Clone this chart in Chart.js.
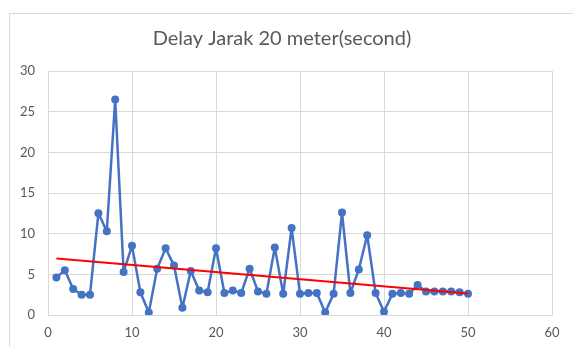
<!DOCTYPE html>
<html>
<head>
<meta charset="utf-8">
<script src="https://cdn.jsdelivr.net/npm/chart.js@4/dist/chart.umd.min.js"></script>
<style>
  html, body { margin: 0; padding: 0; background: #fff; }
  #wrap { width: 573px; height: 347px; position: relative; }
</style>
</head>
<body>
<div id="wrap"><canvas id="delayChart"></canvas></div>
<script>
// Data
const titleText = 'Delay Jarak 20 meter(second)';
const sampleNo = [];
for (let i = 1; i <= 50; i++) sampleNo.push(i);
const delaySec = [4.6, 5.5, 3.2, 2.5, 2.5, 12.5, 10.3, 26.5, 5.3, 8.5,
                  2.8, 0.3, 5.7, 8.2, 6.1, 0.9, 5.4, 3.0, 2.8, 8.2,
                  2.7, 3.0, 2.7, 5.7, 2.9, 2.6, 8.3, 2.6, 10.7, 2.6,
                  2.7, 2.7, 0.3, 2.6, 12.6, 2.7, 5.6, 9.8, 2.7, 0.4,
                  2.6, 2.7, 2.6, 3.7, 2.9, 2.9, 2.9, 2.9, 2.8, 2.6];
const xTicks = [0, 10, 20, 30, 40, 50, 60];
const yTicks = [0, 5, 10, 15, 20, 25, 30];

// Linear trendline (least squares) like Excel's
function linearFit(xs, ys) {
  const n = xs.length;
  let sx = 0, sy = 0, sxy = 0, sxx = 0;
  for (let i = 0; i < n; i++) {
    sx += xs[i]; sy += ys[i]; sxy += xs[i] * ys[i]; sxx += xs[i] * xs[i];
  }
  const slope = (n * sxy - sx * sy) / (n * sxx - sx * sx);
  const icpt = (sy - slope * sx) / n;
  return x => icpt + slope * x;
}
const fit = linearFit(sampleNo, delaySec);
const xFirst = sampleNo[0], xLast = sampleNo[sampleNo.length - 1];

const points = sampleNo.map((x, i) => ({ x: x, y: delaySec[i] }));
const trend = [{ x: xFirst, y: fit(xFirst) }, { x: xLast, y: fit(xLast) }];

// Excel-like chart area border
const chartBorder = {
  id: 'chartBorder',
  beforeDraw(chart) {
    const ctx = chart.ctx;
    ctx.save();
    ctx.fillStyle = '#fff';
    ctx.fillRect(0, 0, chart.width, chart.height);
    ctx.strokeStyle = '#d9d9d9';
    ctx.lineWidth = 1;
    ctx.strokeRect(9.5, 13.5, chart.width + 10, chart.height + 10);
    ctx.restore();
  }
};

const gridColor = '#d9d9d9';
const tickColor = '#595959';

const ctx = document.getElementById('delayChart').getContext('2d');
new Chart(ctx, {
  type: 'scatter',
  data: {
    datasets: [{
      label: 'Delay',
      data: points,
      showLine: true,
      borderColor: '#4472c4',
      backgroundColor: '#4472c4',
      borderWidth: 2.5,
      borderJoinStyle: 'round',
      pointRadius: 4,
      pointBorderWidth: 0,
      pointHoverRadius: 4,
      order: 2
    }, {
      label: 'Trend',
      data: trend,
      showLine: true,
      borderColor: '#ff0000',
      borderWidth: 2,
      pointRadius: 0,
      order: 1
    }]
  },
  options: {
    responsive: true,
    maintainAspectRatio: false,
    animation: false,
    layout: { padding: { left: 12, right: 21, top: 27, bottom: 0 } },
    plugins: {
      legend: { display: false },
      tooltip: { enabled: false },
      title: {
        display: true,
        text: titleText,
        color: tickColor,
        font: { family: 'Lato', size: 20, weight: 'normal' },
        padding: { top: 0, bottom: 20 }
      }
    },
    scales: {
      x: {
        type: 'linear',
        min: 0,
        max: 60,
        afterBuildTicks: axis => { axis.ticks = xTicks.map(v => ({ value: v })); },
        afterFit: axis => { axis.height = 32; },
        grid: { color: gridColor, drawTicks: false },
        border: { color: gridColor },
        ticks: { color: tickColor, padding: 10, font: { family: 'Lato', size: 13 } }
      },
      y: {
        min: 0,
        max: 30,
        afterBuildTicks: axis => { axis.ticks = yTicks.map(v => ({ value: v })); },
        afterFit: axis => { axis.width = 36; },
        grid: { color: gridColor, drawTicks: false },
        border: { color: gridColor },
        ticks: { color: tickColor, padding: 13, font: { family: 'Lato', size: 13 } }
      }
    }
  },
  plugins: [chartBorder]
});
</script>
</body>
</html>
